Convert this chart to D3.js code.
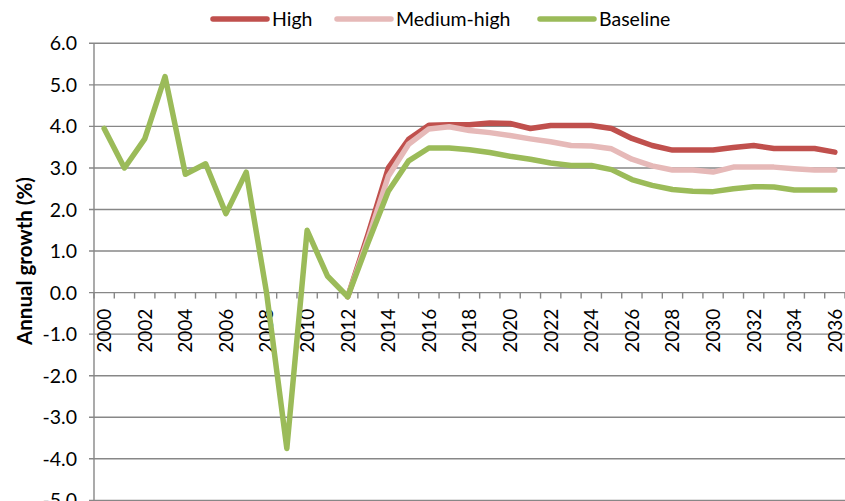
<!DOCTYPE html>
<html>
<head>
<meta charset="utf-8">
<script src="https://cdn.jsdelivr.net/npm/d3@7"></script>
<style>
  body { margin: 0; background: #fff; }
  svg text { font-family: Lato, "Open Sans", sans-serif; fill: #000; }
</style>
</head>
<body>
<div class="chart-container"></div>
<script>
// years on the category axis
const years = d3.range(2000, 2037);

// annual growth (%)
const baseline = [3.95, 3.0, 3.7, 5.2, 2.85, 3.1, 1.9, 2.9, 0.0, -3.75, 1.5, 0.4, -0.1,
    1.2, 2.44, 3.17, 3.48, 3.48, 3.44, 3.37, 3.28, 3.21, 3.12, 3.06, 3.06, 2.96, 2.72,
    2.58, 2.48, 2.44, 2.43, 2.5, 2.55, 2.54, 2.47, 2.47, 2.47];
const high = [null, null, null, null, null, null, null, null, null, null, null, null, -0.1,
    1.4, 3.0, 3.69, 4.03, 4.04, 4.04, 4.08, 4.07, 3.95, 4.02, 4.02, 4.02, 3.95, 3.71,
    3.54, 3.43, 3.43, 3.43, 3.49, 3.54, 3.47, 3.47, 3.47, 3.38];
const mediumHigh = [null, null, null, null, null, null, null, null, null, null, null, null, -0.1,
    1.3, 2.8, 3.57, 3.94, 3.99, 3.9, 3.85, 3.78, 3.7, 3.63, 3.54, 3.53, 3.46, 3.21,
    3.05, 2.95, 2.95, 2.9, 3.02, 3.02, 3.02, 2.98, 2.95, 2.95];

const yTicks = d3.range(-5, 7);
const labelYears = years.filter(yr => yr % 2 === 0);

const seriesNames = ["High", "Medium-high", "Baseline"];
const seriesColors = ["#C0504D", "#E6B9B8", "#9BBB59"];
const seriesValues = [high, mediumHigh, baseline];

const width = 845;
const height = 501;
const plotLeft = 94, plotRight = 845, plotTop = 43.3;
const gridColor = "#878787";

const svg = d3.select(".chart-container").append("svg")
    .attr("width", width)
    .attr("height", height);

const x = d3.scaleBand()
    .domain(years)
    .range([plotLeft, plotRight]);

const y = d3.scaleLinear()
    .domain([-5, 6])
    .range([plotTop + 11 * 41.55, plotTop]);

const cx = yr => x(yr) + x.bandwidth() / 2;

// gridlines
svg.append("g")
    .selectAll("line")
    .data(yTicks)
    .enter()
    .append("line")
    .attr("x1", plotLeft - 5)
    .attr("x2", plotRight)
    .attr("y1", d => y(d))
    .attr("y2", d => y(d))
    .attr("stroke", gridColor)
    .attr("stroke-width", 1.4);

// y axis line
svg.append("line")
    .attr("x1", plotLeft).attr("x2", plotLeft)
    .attr("y1", y(6)).attr("y2", height)
    .attr("stroke", gridColor)
    .attr("stroke-width", 1.4);

// y tick labels
svg.append("g")
    .selectAll("text")
    .data(yTicks)
    .enter()
    .append("text")
    .attr("x", 77)
    .attr("y", d => y(d))
    .attr("dy", "0.36em")
    .attr("text-anchor", "end")
    .style("font-size", "19.5px")
    .text(d => d.toFixed(1));

// x axis ticks at category boundaries
const boundaries = years.map(yr => x(yr)).concat([plotRight]);
svg.append("g")
    .selectAll("line")
    .data(boundaries)
    .enter()
    .append("line")
    .attr("x1", d => d).attr("x2", d => d)
    .attr("y1", y(0)).attr("y2", y(0) + 6)
    .attr("stroke", gridColor)
    .attr("stroke-width", 1.4);

// x tick labels, rotated
svg.append("g")
    .selectAll("text")
    .data(labelYears)
    .enter()
    .append("text")
    .attr("transform", d => `translate(${cx(d)},${y(0) + 16}) rotate(-90)`)
    .attr("dy", "0.36em")
    .attr("text-anchor", "end")
    .style("font-size", "19px")
    .text(d => d);

// y axis title
svg.append("text")
    .attr("transform", "translate(25,261) rotate(-90)")
    .attr("dy", "0.36em")
    .attr("text-anchor", "middle")
    .style("font-size", "20.5px")
    .style("font-weight", "bold")
    .text("Annual growth (%)");

// series lines
const line = d3.line()
    .defined(d => d.v !== null)
    .x(d => cx(d.year))
    .y(d => y(d.v));

seriesValues.forEach((vals, i) => {
    svg.append("path")
        .datum(years.map((yr, j) => ({ year: yr, v: vals[j] })))
        .attr("d", line)
        .attr("fill", "none")
        .attr("stroke", seriesColors[i])
        .attr("stroke-width", 5.5)
        .attr("stroke-linejoin", "round")
        .attr("stroke-linecap", "round");
});

// legend
const legendX = [213, 337, 540];
const legend = svg.append("g");
seriesNames.forEach((name, i) => {
    legend.append("line")
        .attr("x1", legendX[i]).attr("x2", legendX[i] + 54)
        .attr("y1", 19).attr("y2", 19)
        .attr("stroke", seriesColors[i])
        .attr("stroke-width", 5.5)
        .attr("stroke-linecap", "round");
    legend.append("text")
        .attr("x", legendX[i] + 59)
        .attr("y", 19)
        .attr("dy", "0.36em")
        .style("font-size", "19.5px")
        .text(name);
});
</script>
</body>
</html>
